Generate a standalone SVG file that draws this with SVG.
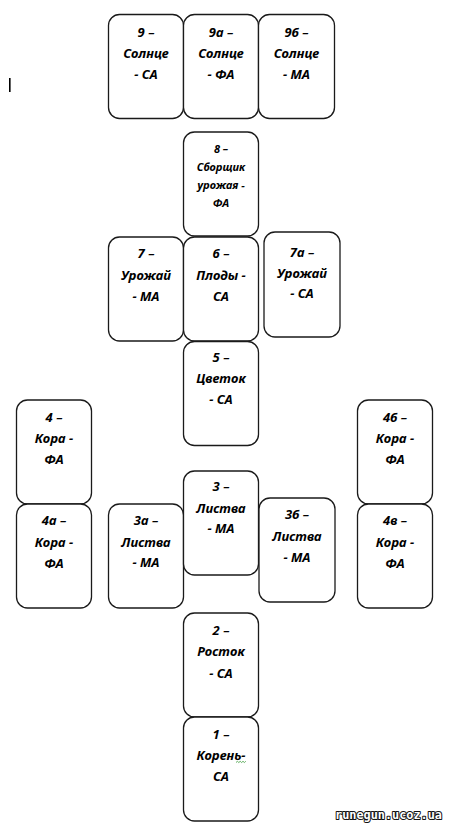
<svg xmlns="http://www.w3.org/2000/svg" width="449" height="825" viewBox="0 0 449 825">
<style>
.b{fill:#fff;stroke:#1a1a1a;stroke-width:1.3}
.t{font-family:"Noto Sans","Open Sans",sans-serif;font-weight:bold;font-style:italic;font-size:13px;fill:#000;text-anchor:middle}
.s{font-size:11px}
.wm{font-family:"DejaVu Sans Mono","Liberation Mono",monospace;font-weight:bold;font-size:12px;fill:#fff;stroke:#111;stroke-width:2;paint-order:stroke;stroke-linejoin:round}
</style>
<rect width="449" height="825" fill="#fff"/>
<rect x="9" y="78" width="1.6" height="14" fill="#000"/>
<g id="connectors"/>
<g id="n9"><rect class="b" x="108.5" y="14.5" width="75" height="104" rx="11"/><text class="t" x="146" y="37">9 –</text><text class="t" x="146" y="58">Солнце</text><text class="t" x="146" y="79">- СА</text></g>
<g id="n9a"><rect class="b" x="183.5" y="14.5" width="75" height="104" rx="11"/><text class="t" x="221" y="37">9а –</text><text class="t" x="221" y="58">Солнце</text><text class="t" x="221" y="79">- ФА</text></g>
<g id="n9b"><rect class="b" x="258.5" y="14.5" width="76" height="104" rx="11"/><text class="t" x="296.5" y="37">9б –</text><text class="t" x="296.5" y="58">Солнце</text><text class="t" x="296.5" y="79">- МА</text></g>
<g id="n8"><rect class="b" x="183.5" y="132" width="75" height="104" rx="11"/><text class="t s" x="221" y="153">8 –</text><text class="t s" x="221" y="171">Сборщик</text><text class="t s" x="221" y="189">урожая -</text><text class="t s" x="221" y="207">ФА</text></g>
<g id="n7"><rect class="b" x="108.5" y="237" width="75" height="104" rx="11"/><text class="t" x="146" y="258">7 –</text><text class="t" x="146" y="279.5">Урожай</text><text class="t" x="146" y="301">- МА</text></g>
<g id="n6"><rect class="b" x="183.5" y="237" width="75" height="104" rx="11"/><text class="t" x="221" y="258">6 –</text><text class="t" x="221" y="279.5">Плоды -</text><text class="t" x="221" y="301">СА</text></g>
<g id="n7a"><rect class="b" x="264" y="232" width="76" height="105" rx="11"/><text class="t" x="302" y="256.5">7а –</text><text class="t" x="302" y="277.5">Урожай</text><text class="t" x="302" y="297.5">- СА</text></g>
<g id="n5"><rect class="b" x="183.5" y="341.5" width="75" height="104" rx="11"/><text class="t" x="221" y="362">5 –</text><text class="t" x="221" y="383">Цветок</text><text class="t" x="221" y="404">- СА</text></g>
<g id="n4"><rect class="b" x="16.5" y="400" width="75" height="104" rx="11"/><text class="t" x="54" y="421.5">4 –</text><text class="t" x="54" y="443">Кора -</text><text class="t" x="54" y="463.5">ФА</text></g>
<g id="n4b"><rect class="b" x="357.5" y="400" width="75" height="104" rx="11"/><text class="t" x="395" y="421.5">4б –</text><text class="t" x="395" y="443">Кора -</text><text class="t" x="395" y="463.5">ФА</text></g>
<g id="n4a"><rect class="b" x="16.5" y="504" width="75" height="104" rx="11"/><text class="t" x="54" y="525">4а –</text><text class="t" x="54" y="547">Кора -</text><text class="t" x="54" y="567.5">ФА</text></g>
<g id="n4v"><rect class="b" x="357.5" y="504" width="75" height="104" rx="11"/><text class="t" x="395" y="525">4в –</text><text class="t" x="395" y="547">Кора -</text><text class="t" x="395" y="567.5">ФА</text></g>
<g id="n3a"><rect class="b" x="108.5" y="504" width="75" height="104" rx="11"/><text class="t" x="146" y="525">3а –</text><text class="t" x="146" y="547">Листва</text><text class="t" x="146" y="567">- МА</text></g>
<g id="n3"><rect class="b" x="183.5" y="471" width="75" height="104" rx="11"/><text class="t" x="221" y="491">3 –</text><text class="t" x="221" y="512.5">Листва</text><text class="t" x="221" y="533">- МА</text></g>
<g id="n3b"><rect class="b" x="259" y="498" width="76" height="104" rx="11"/><text class="t" x="297" y="519">3б –</text><text class="t" x="297" y="541">Листва</text><text class="t" x="297" y="562">- МА</text></g>
<g id="n2"><rect class="b" x="183.5" y="613" width="75" height="104" rx="11"/><text class="t" x="221" y="635">2 –</text><text class="t" x="221" y="656">Росток</text><text class="t" x="221" y="677.5">- СА</text></g>
<g id="n1"><rect class="b" x="183.5" y="717" width="75" height="104" rx="11"/><text class="t" x="221" y="738.5">1 –</text><text class="t" x="221" y="760">Корень-</text><text class="t" x="221" y="781">СА</text><path d="M236 762.5 l1.4 -1.2 l1.4 1.2 l1.4 -1.2 l1.4 1.2 l1.4 -1.2 l1.4 1.2 l1.4 -1.2" fill="none" stroke="#3a9a3a" stroke-width="0.8"/></g>
<text class="wm" x="335" y="819" textLength="107" lengthAdjust="spacingAndGlyphs">runegun.ucoz.ua</text>
</svg>
